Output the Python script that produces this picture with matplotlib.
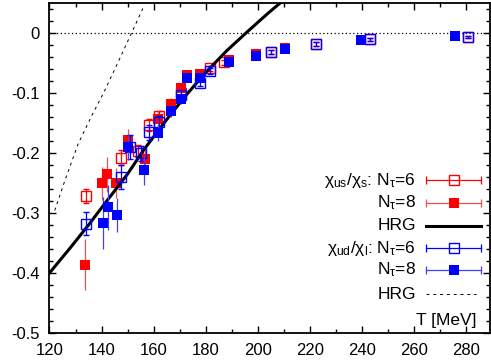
import numpy as np
import matplotlib
matplotlib.use('Agg')
import matplotlib.pyplot as plt

plt.rcParams['font.family'] = ['Liberation Sans', 'DejaVu Sans']
plt.rcParams['mathtext.fontset'] = 'custom'
plt.rcParams['mathtext.rm'] = 'Liberation Sans'
plt.rcParams['mathtext.it'] = 'Liberation Sans'
plt.rcParams['axes.unicode_minus'] = False

# chi_us/chi_s, N_tau=6 (open red)
T_us6 = [134.0, 147.3, 154.0, 158.3, 162.2, 170.4, 181.5, 186.9, 205.1, 222.4, 243.0, 280.5]
v_us6 = [-0.272, -0.208, -0.197, -0.154, -0.139, -0.100, -0.059, -0.049, -0.032, -0.019, -0.011, -0.007]
e_us6 = [0.011, 0.012, 0.010, 0.010, 0.008, 0.006, 0.004, 0.004, 0.003, 0.003, 0.002, 0.002]

# chi_us/chi_s, N_tau=8 (filled red)
T_us8 = [133.6, 140.3, 142.2, 145.7, 150.2, 156.6, 161.7, 166.8, 170.4, 172.9, 177.7, 188.8, 199.4, 210.5, 239.6, 275.6]
v_us8 = [-0.386, -0.251, -0.236, -0.251, -0.179, -0.210, -0.143, -0.118, -0.092, -0.070, -0.069, -0.045, -0.036, -0.025, -0.012, -0.006]
e_us8 = [0.042, 0.028, 0.029, 0.025, 0.018, 0.020, 0.012, 0.010, 0.008, 0.006, 0.006, 0.004, 0.003, 0.002, 0.002, 0.001]

# chi_ud/chi_l, N_tau=6 (open blue)
T_ud6 = [134.0, 147.3, 151.0, 155.3, 158.3, 162.0, 170.4, 177.7, 181.5, 205.1, 222.4, 243.0, 280.5]
v_ud6 = [-0.318, -0.241, -0.190, -0.201, -0.166, -0.149, -0.103, -0.083, -0.064, -0.032, -0.019, -0.011, -0.007]
e_ud6 = [0.019, 0.020, 0.020, 0.012, 0.012, 0.010, 0.008, 0.006, 0.005, 0.003, 0.003, 0.002, 0.002]

# chi_ud/chi_l, N_tau=8 (filled blue)
T_ud8 = [140.4, 142.3, 145.8, 150.3, 156.2, 161.7, 166.8, 170.4, 172.9, 177.7, 188.8, 199.4, 210.5, 239.6, 275.6]
v_ud8 = [-0.317, -0.291, -0.304, -0.190, -0.229, -0.167, -0.130, -0.110, -0.076, -0.076, -0.049, -0.038, -0.027, -0.012, -0.006]
e_ud8 = [0.043, 0.038, 0.028, 0.022, 0.025, 0.013, 0.010, 0.008, 0.006, 0.006, 0.004, 0.003, 0.002, 0.002, 0.001]

# HRG curves
T_hrg_us = [120, 128, 135, 142, 150, 156, 164, 172, 180, 188, 196, 204, 210]
v_hrg_us = [-0.400, -0.358, -0.320, -0.280, -0.235, -0.196, -0.150, -0.106, -0.066, -0.030, 0.002, 0.033, 0.055]
T_hrg_ud = [122, 126, 131, 136, 141, 146, 151, 156]
v_hrg_ud = [-0.296, -0.245, -0.185, -0.140, -0.098, -0.052, -0.005, 0.042]

fig = plt.figure(figsize=(4.91, 3.62), dpi=100)
ax = fig.add_axes([0.1008, 0.0801, 0.897, 0.9124])

red = '#ff0000'
blue = '#0000ff'
ms = 7

ax.axhline(0, color='k', lw=0.9, ls=(0, (1, 2)), zorder=1)

ax.errorbar(T_us6, v_us6, yerr=e_us6, fmt='s', ms=ms, mfc='none', mec=red, mew=1,
            ecolor=red, elinewidth=0.9, capsize=2, capthick=0.9, zorder=2)
ax.errorbar(T_us8, v_us8, yerr=e_us8, fmt='s', ms=ms, mfc=red, mec=red, mew=0,
            ecolor='#f05050', elinewidth=0.9, capsize=2, capthick=0.9, zorder=3)
ax.plot(T_hrg_us, v_hrg_us, color='k', lw=2.2, zorder=4)
ax.errorbar(T_ud6, v_ud6, yerr=e_ud6, fmt='s', ms=ms, mfc='none', mec=blue, mew=1,
            ecolor=blue, elinewidth=0.9, capsize=2, capthick=0.9, zorder=5)
ax.errorbar(T_ud8, v_ud8, yerr=e_ud8, fmt='s', ms=ms, mfc=blue, mec=blue, mew=0,
            ecolor='#4040ff', elinewidth=0.9, capsize=2, capthick=0.9, zorder=6)
ax.plot(T_hrg_ud, v_hrg_ud, color='k', lw=0.7, ls=(0, (3, 4)), zorder=7)

ax.set_xlim(120, 289)
ax.set_ylim(-0.5, 0.05)
ax.set_xticks(np.arange(120, 281, 20))
ax.set_xticks(np.arange(120, 290, 10), minor=True)
yt = [-0.5, -0.4, -0.3, -0.2, -0.1, 0]
ax.set_yticks(yt, ['-0.5', '-0.4', '-0.3', '-0.2', '-0.1', '0'])
ax.set_yticks(np.arange(-0.5, 0.051, 0.02), minor=True)
ax.tick_params(which='both', direction='in', top=True, right=True, labelsize=12, pad=7)
ax.tick_params(which='major', length=5, width=1)
ax.tick_params(which='minor', length=3, width=1)
for s in ax.spines.values():
    s.set_linewidth(1.3)

# legend drawn gnuplot-style
fs = 12.5
rows = [0.463, 0.394, 0.324, 0.256, 0.191, 0.118]
labels = [r'$\chi_{us}/\chi_{s}$: N$_{\tau}$=6', r'N$_{\tau}$=8', 'HRG',
          r'$\chi_{ud}/\chi_{l}$: N$_{\tau}$=6', r'N$_{\tau}$=8', 'HRG']
x0, x1, xm = 0.856, 0.979, 0.9176
tr = ax.transAxes
for y, lab in zip(rows, labels):
    ax.text(0.832, y, lab, transform=tr, ha='right', va='center', fontsize=fs)
styles = [(red, 'none', red), ('#f05050', red, red), None,
          (blue, 'none', blue), ('#4040ff', blue, blue), 'dash']
for y, st in zip(rows, styles):
    if st is None:
        ax.plot([x0, x1], [y, y], transform=tr, color='k', lw=2.2, clip_on=False)
    elif st == 'dash':
        ax.plot([x0, x1 - 0.01], [y, y], transform=tr, color='k', lw=0.7, ls=(0, (3, 4)), clip_on=False)
    else:
        lc, fc, ec = st
        ax.plot([x0, x1], [y, y], transform=tr, color=lc, lw=0.9, marker='|', ms=6, mew=0.9, clip_on=False)
        ax.plot([xm], [y], transform=tr, marker='s', ms=ms, mfc=fc, mec=ec,
                mew=(1 if fc == 'none' else 0), ls='none', clip_on=False)

ax.text(0.97, 0.037, 'T [MeV]', transform=tr, ha='right', va='center', fontsize=fs)

fig.savefig('out.png', dpi=100)
